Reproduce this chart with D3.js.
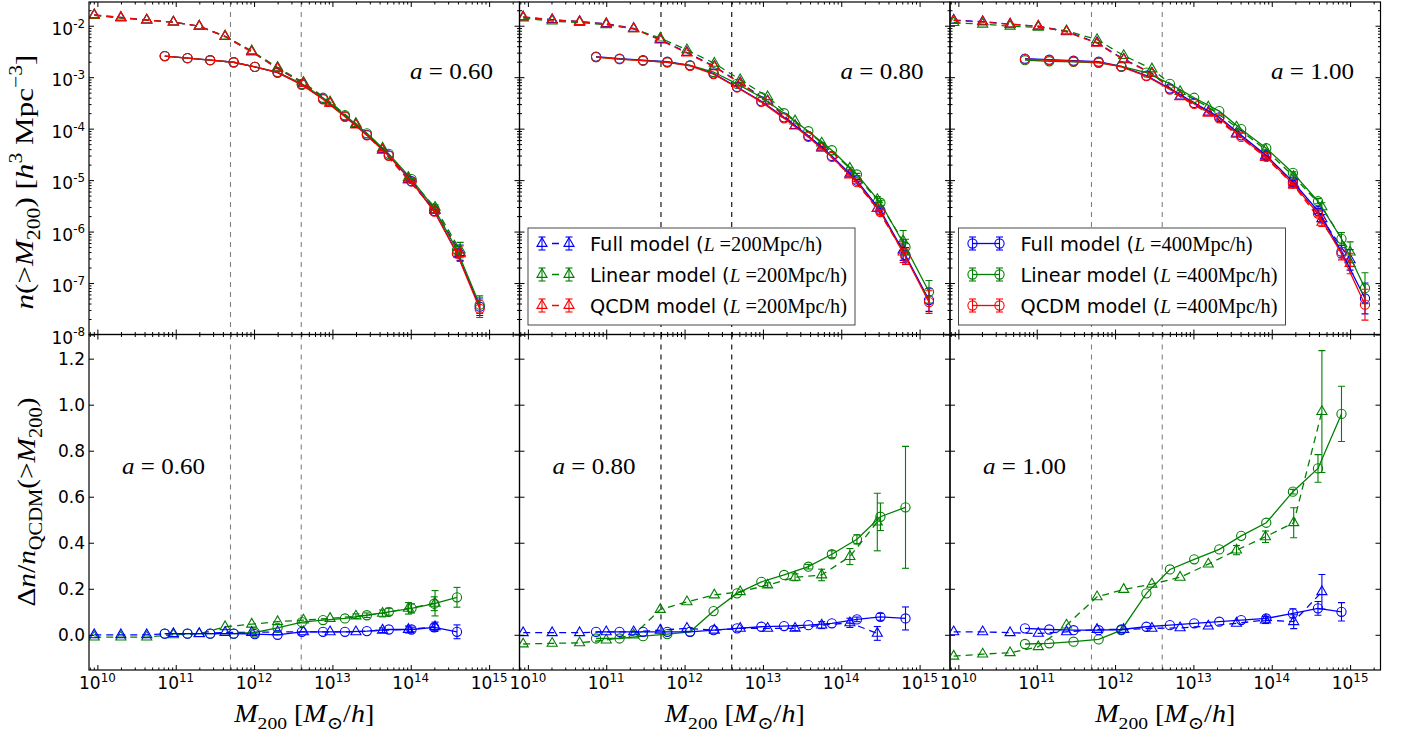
<!DOCTYPE html>
<html>
<head>
<meta charset="utf-8">
<script src="https://cdn.jsdelivr.net/npm/d3@7"></script>
<style>
  body { margin: 0; background: #fff; }
</style>
</head>
<body>
<svg id="fig" width="1410" height="737"></svg>
<script>
// ---------- data (masses as log10 M, top panels as log10 n, bottom panels as Δn/n) ----------
// a = 0.60
var m200_a060 = [9.96, 10.30, 10.63, 10.97, 11.30, 11.63, 11.97, 12.30, 12.63, 12.97, 13.30, 13.64, 13.97, 14.31, 14.63];
var m400_a060 = [10.86, 11.15, 11.44, 11.74, 12.01, 12.30, 12.61, 12.88, 13.16, 13.44, 13.72, 14.01, 14.30, 14.59, 14.88];
var qcdm200_a060 = [-1.79, -1.84, -1.89, -1.93, -2.01, -2.21, -2.51, -2.83, -3.12, -3.51, -3.93, -4.42, -5.00, -5.59, -6.43];
var full200_a060 = [-1.79, -1.84, -1.89, -1.93, -2.01, -2.21, -2.50, -2.83, -3.12, -3.50, -3.92, -4.41, -4.99, -5.58, -6.41];
var lin200_a060  = [-1.80, -1.85, -1.89, -1.93, -2.01, -2.20, -2.49, -2.81, -3.10, -3.48, -3.90, -4.38, -4.95, -5.53, -6.36];
var qcdm400_a060 = [-2.59, -2.63, -2.67, -2.71, -2.80, -2.91, -3.15, -3.43, -3.77, -4.13, -4.53, -5.03, -5.61, -6.43, -7.50];
var full400_a060 = [-2.59, -2.63, -2.67, -2.71, -2.80, -2.91, -3.14, -3.42, -3.76, -4.12, -4.52, -5.02, -5.60, -6.42, -7.46];
var lin400_a060  = [-2.59, -2.63, -2.67, -2.71, -2.80, -2.90, -3.13, -3.40, -3.74, -4.09, -4.49, -4.98, -5.55, -6.36, -7.42];
var err200_a060 = [0, 0, 0, 0, 0, 0, 0, 0, 0, 0, 0, 0.01, 0.02, 0.05, 0.15];
var err400_a060 = [0, 0, 0, 0, 0, 0, 0, 0, 0, 0, 0, 0.01, 0.03, 0.07, 0.17];
var dFull200_a060 = [0.0, 0.0, 0.0, 0.005, 0.005, 0.01, 0.01, 0.013, 0.013, 0.013, 0.013, 0.02, 0.023, 0.035];
var dLin200_a060  = [-0.01, -0.01, -0.01, 0.0, 0.004, 0.035, 0.046, 0.057, 0.064, 0.071, 0.081, 0.093, 0.115, 0.137];
var dFull400_a060 = [0.005, 0.005, 0.005, 0.005, 0.003, 0.0, 0.013, 0.013, 0.013, 0.016, 0.023, 0.023, 0.032, 0.013];
var dLin400_a060  = [0.005, 0.005, 0.005, 0.005, 0.01, 0.03, 0.055, 0.064, 0.071, 0.085, 0.10, 0.115, 0.135, 0.163];
var eFull200_a060 = [0, 0, 0, 0, 0, 0, 0, 0, 0, 0, 0, 0.01, 0.015, 0.02];
var eLin200_a060  = [0, 0, 0, 0, 0, 0, 0, 0, 0, 0, 0.01, 0.015, 0.025, 0.055];
var eFull400_a060 = [0, 0, 0, 0, 0, 0, 0, 0, 0, 0, 0, 0.01, 0.015, 0.03];
var eLin400_a060  = [0, 0, 0, 0, 0, 0, 0, 0, 0, 0.01, 0.015, 0.02, 0.03, 0.043];

// a = 0.80
var m200_a080 = [9.94, 10.31, 10.66, 11.00, 11.35, 11.69, 12.03, 12.38, 12.71, 13.06, 13.41, 13.75, 14.11, 14.46, 14.79];
var m400_a080 = [10.87, 11.17, 11.47, 11.78, 12.07, 12.37, 12.67, 12.98, 13.27, 13.58, 13.88, 14.20, 14.50, 14.82, 15.12];
var qcdm200_a080 = [-1.83, -1.89, -1.92, -1.97, -2.06, -2.28, -2.53, -2.80, -3.12, -3.47, -3.95, -4.38, -4.90, -5.55, -6.40];
var full200_a080 = [-1.83, -1.88, -1.92, -1.96, -2.05, -2.27, -2.52, -2.79, -3.11, -3.46, -3.94, -4.36, -4.88, -5.55, -6.36];
var lin200_a080  = [-1.85, -1.91, -1.94, -1.98, -2.06, -2.24, -2.47, -2.73, -3.05, -3.38, -3.85, -4.28, -4.77, -5.38, -6.18];
var qcdm400_a080 = [-2.61, -2.65, -2.68, -2.71, -2.78, -2.94, -3.20, -3.48, -3.80, -4.16, -4.55, -5.04, -5.62, -6.49, -7.37];
var full400_a080 = [-2.60, -2.64, -2.67, -2.70, -2.77, -2.93, -3.19, -3.47, -3.78, -4.14, -4.53, -5.01, -5.59, -6.46, -7.33];
var lin400_a080  = [-2.61, -2.65, -2.68, -2.71, -2.77, -2.90, -3.13, -3.39, -3.70, -4.05, -4.42, -4.89, -5.44, -6.30, -7.17];
var err200_a080 = [0, 0, 0, 0, 0, 0, 0, 0, 0, 0, 0, 0.01, 0.02, 0.06, 0.20];
var err400_a080 = [0, 0, 0, 0, 0, 0, 0, 0, 0, 0, 0, 0.02, 0.05, 0.15, 0.22];
var dFull200_a080 = [0.009, 0.009, 0.009, 0.013, 0.013, 0.02, 0.028, 0.02, 0.028, 0.028, 0.028, 0.042, 0.052, 0.006];
var dLin200_a080  = [-0.04, -0.037, -0.035, -0.023, -0.001, 0.11, 0.143, 0.173, 0.187, 0.216, 0.25, 0.26, 0.34, 0.49];
var dFull400_a080 = [0.013, 0.013, 0.013, 0.013, 0.013, 0.02, 0.028, 0.035, 0.038, 0.042, 0.05, 0.067, 0.078, 0.071];
var dLin400_a080  = [-0.016, -0.016, -0.006, 0.003, 0.013, 0.103, 0.18, 0.23, 0.26, 0.296, 0.35, 0.415, 0.513, 0.554];
var eFull200_a080 = [0, 0, 0, 0, 0, 0, 0, 0, 0, 0, 0.01, 0.015, 0.02, 0.03];
var eLin200_a080  = [0, 0, 0, 0, 0, 0, 0, 0, 0, 0.01, 0.015, 0.025, 0.035, 0.125];
var eFull400_a080 = [0, 0, 0, 0, 0, 0, 0, 0, 0, 0, 0, 0.01, 0.015, 0.05];
var eLin400_a080  = [0, 0, 0, 0, 0, 0, 0, 0, 0, 0.01, 0.015, 0.02, 0.06, 0.265];

// a = 1.00
var m200_a100 = [9.94, 10.31, 10.66, 11.02, 11.38, 11.77, 12.11, 12.47, 12.83, 13.19, 13.55, 13.92, 14.28, 14.64, 15.00];
var m400_a100 = [10.85, 11.16, 11.47, 11.79, 12.08, 12.40, 12.70, 13.01, 13.33, 13.61, 13.93, 14.27, 14.59, 14.89, 15.19];
var qcdm200_a100 = [-1.90, -1.93, -1.97, -2.01, -2.12, -2.34, -2.66, -2.93, -3.38, -3.70, -4.11, -4.56, -5.10, -5.82, -6.62];
var full200_a100 = [-1.89, -1.92, -1.97, -2.01, -2.11, -2.33, -2.65, -2.92, -3.37, -3.68, -4.09, -4.53, -5.08, -5.75, -6.55];
var lin200_a100  = [-1.94, -1.97, -2.01, -2.03, -2.10, -2.27, -2.58, -2.84, -3.28, -3.58, -3.97, -4.41, -4.93, -5.52, -6.40];
var qcdm400_a100 = [-2.65, -2.67, -2.69, -2.71, -2.80, -2.98, -3.24, -3.52, -3.80, -4.16, -4.55, -5.07, -5.65, -6.43, -7.42];
var full400_a100 = [-2.64, -2.66, -2.68, -2.70, -2.79, -2.97, -3.22, -3.50, -3.78, -4.13, -4.52, -5.03, -5.60, -6.39, -7.30];
var lin400_a100  = [-2.67, -2.69, -2.70, -2.72, -2.79, -2.91, -3.13, -3.40, -3.66, -4.01, -4.38, -4.86, -5.41, -6.14, -7.10];
var err200_a100 = [0, 0, 0, 0, 0, 0, 0, 0, 0, 0, 0, 0.01, 0.03, 0.08, 0.20];
var err400_a100 = [0, 0, 0, 0, 0, 0, 0, 0, 0, 0, 0, 0.02, 0.05, 0.12, 0.30];
var dFull200_a100 = [0.013, 0.013, 0.009, 0.006, 0.013, 0.023, 0.023, 0.028, 0.03, 0.038, 0.05, 0.064, 0.057, 0.187];
var dLin200_a100  = [-0.093, -0.084, -0.078, -0.052, 0.042, 0.165, 0.197, 0.22, 0.25, 0.307, 0.368, 0.426, 0.487, 0.97];
var dFull400_a100 = [0.028, 0.023, 0.02, 0.02, 0.023, 0.035, 0.042, 0.05, 0.057, 0.064, 0.071, 0.093, 0.115, 0.10];
var dLin400_a100  = [-0.04, -0.037, -0.03, -0.02, 0.02, 0.18, 0.284, 0.328, 0.371, 0.43, 0.487, 0.622, 0.723, 0.96];
var eFull200_a100 = [0, 0, 0, 0, 0, 0, 0, 0, 0, 0, 0, 0.015, 0.03, 0.075];
var eLin200_a100  = [0, 0, 0, 0, 0, 0, 0, 0, 0, 0, 0.02, 0.025, 0.065, 0.265];
var eFull400_a100 = [0, 0, 0, 0, 0, 0, 0, 0, 0, 0, 0.01, 0.02, 0.03, 0.04];
var eLin400_a100  = [0, 0, 0, 0, 0, 0, 0, 0, 0, 0, 0, 0.01, 0.06, 0.12];

// ticks / labels
var massTickExp = [10, 11, 12, 13, 14, 15];
var nTickExp = [-8, -7, -6, -5, -4, -3, -2];
var ratioTicks = [0.0, 0.2, 0.4, 0.6, 0.8, 1.0, 1.2];
var cutMasses = [5e11, 4e12];
var scaleLabels = ["0.60", "0.80", "1.00"];
var modelNames = ["Full model", "Linear model", "QCDM model"];

// ---------- layout ----------
var svg = d3.select("#fig");
var defs = svg.append("defs");
var colX = [89, 519.5, 950], colW = 430.5;
var topBox = [2, 334.5], botBox = [334.5, 670];
var sans = "'DejaVu Sans', sans-serif";
var serif = "'Liberation Serif', 'DejaVu Serif', serif";
var cFull = "#0000ff", cLin = "#008000", cQcdm = "#ff0000";

var panels = [
  {a: scaleLabels[0], m200: m200_a060, m400: m400_a060,
   top200: [[full200_a060, cFull], [lin200_a060, cLin], [qcdm200_a060, cQcdm]], eTop200: err200_a060,
   top400: [[full400_a060, cFull], [lin400_a060, cLin], [qcdm400_a060, cQcdm]], eTop400: err400_a060,
   bot: [[dLin200_a060, eLin200_a060, cLin, 200], [dFull200_a060, eFull200_a060, cFull, 200],
         [dLin400_a060, eLin400_a060, cLin, 400], [dFull400_a060, eFull400_a060, cFull, 400]],
   vcol: "#808080", legend: null},
  {a: scaleLabels[1], m200: m200_a080, m400: m400_a080,
   top200: [[full200_a080, cFull], [lin200_a080, cLin], [qcdm200_a080, cQcdm]], eTop200: err200_a080,
   top400: [[full400_a080, cFull], [lin400_a080, cLin], [qcdm400_a080, cQcdm]], eTop400: err400_a080,
   bot: [[dLin200_a080, eLin200_a080, cLin, 200], [dFull200_a080, eFull200_a080, cFull, 200],
         [dLin400_a080, eLin400_a080, cLin, 400], [dFull400_a080, eFull400_a080, cFull, 400]],
   vcol: "#000000", legend: 200},
  {a: scaleLabels[2], m200: m200_a100, m400: m400_a100,
   top200: [[full200_a100, cFull], [lin200_a100, cLin], [qcdm200_a100, cQcdm]], eTop200: err200_a100,
   top400: [[full400_a100, cFull], [lin400_a100, cLin], [qcdm400_a100, cQcdm]], eTop400: err400_a100,
   bot: [[dLin200_a100, eLin200_a100, cLin, 200], [dFull200_a100, eFull200_a100, cFull, 200],
         [dLin400_a100, eLin400_a100, cLin, 400], [dFull400_a100, eFull400_a100, cFull, 400]],
   vcol: "#808080", legend: 400}
];

// text with italics / sub / superscripts
function tex(t, parts, fs) {
  var shift = 0;
  parts.forEach(function(p) {
    var k = p[1];
    var off = k === "sub" ? 0.28 * fs : k === "sup" ? -0.42 * fs : 0;
    var ts = t.append("tspan").text(p[0]).attr("dy", off - shift);
    shift = off;
    if (k === "sub" || k === "sup") ts.attr("font-size", 0.7 * fs);
    if (k === "i") ts.attr("font-style", "italic");
  });
  return t;
}

var isDecade = function(v) { var l = Math.log10(v); return Math.abs(l - Math.round(l)) < 1e-6; };
var triangle = d3.symbol().type(d3.symbolTriangle).size(44);

function marker(g, pts, color, shape) {
  if (shape === "tri") {
    g.selectAll(null).data(pts).join("path")
      .attr("d", triangle).attr("transform", function(d) { return "translate(" + d.px + "," + d.py + ")"; })
      .attr("fill", "none").attr("stroke", color).attr("stroke-width", 1.1);
  } else {
    g.selectAll(null).data(pts).join("circle")
      .attr("cx", function(d) { return d.px; }).attr("cy", function(d) { return d.py; }).attr("r", 4.6)
      .attr("fill", "none").attr("stroke", color).attr("stroke-width", 1.1);
  }
}

function errbars(g, pts, color) {
  var eb = g.selectAll(null).data(pts.filter(function(d) { return Math.abs(d.lo - d.hi) > 0.5; })).join("g")
    .attr("stroke", color).attr("stroke-width", 1.1);
  eb.append("line").attr("x1", function(d) { return d.px; }).attr("x2", function(d) { return d.px; })
    .attr("y1", function(d) { return d.lo; }).attr("y2", function(d) { return d.hi; });
  eb.append("line").attr("x1", function(d) { return d.px - 3.5; }).attr("x2", function(d) { return d.px + 3.5; })
    .attr("y1", function(d) { return d.lo; }).attr("y2", function(d) { return d.lo; });
  eb.append("line").attr("x1", function(d) { return d.px - 3.5; }).attr("x2", function(d) { return d.px + 3.5; })
    .attr("y1", function(d) { return d.hi; }).attr("y2", function(d) { return d.hi; });
}

function series(g, x, ms, vals, errs, toPix, color, box) {
  var pts = vals.map(function(v, i) {
    return {px: x(Math.pow(10, ms[i])), py: toPix(v), lo: toPix(v - errs[i]), hi: toPix(v + errs[i])};
  });
  g.append("path").datum(pts)
    .attr("d", d3.line().x(function(d) { return d.px; }).y(function(d) { return d.py; }))
    .attr("fill", "none").attr("stroke", color).attr("stroke-width", 1.3)
    .attr("stroke-dasharray", box === 200 ? "7,5" : null);
  errbars(g, pts, color);
  marker(g, pts, color, box === 200 ? "tri" : "circ");
}

panels.forEach(function(p, c) {
  var x0 = colX[c], x1 = x0 + colW;
  var x = d3.scaleLog().domain([Math.pow(10, 9.893), Math.pow(10, 15.388)]).range([x0, x1]);
  var yT = d3.scaleLog().domain([1e-8, Math.pow(10, -1.539)]).range([topBox[1], topBox[0]]);
  var yB = d3.scaleLinear().domain([-0.153, 1.305]).range([botBox[1], botBox[0]]);
  var xt = x.ticks();
  var xMaj = xt.filter(isDecade), xMin = xt.filter(function(t) { return !isDecade(t); });

  [["top", topBox], ["bot", botBox]].forEach(function(b) {
    var id = "clip" + c + b[0];
    defs.append("clipPath").attr("id", id).append("rect")
      .attr("x", x0).attr("y", b[1][0]).attr("width", colW).attr("height", b[1][1] - b[1][0]);
    var g = svg.append("g").attr("clip-path", "url(#" + id + ")");
    g.selectAll(null).data(cutMasses).join("line")
      .attr("x1", function(d) { return x(d); }).attr("x2", function(d) { return x(d); })
      .attr("y1", b[1][0]).attr("y2", b[1][1])
      .attr("stroke", p.vcol).attr("stroke-width", 1.1).attr("stroke-dasharray", "5,5");

    if (b[0] === "top") {
      var tp = function(v) { return yT(Math.pow(10, v)); };
      p.top200.forEach(function(s) { series(g, x, p.m200, s[0], p.eTop200, tp, s[1], 200); });
      p.top400.forEach(function(s) { series(g, x, p.m400, s[0], p.eTop400, tp, s[1], 400); });
    } else {
      p.bot.forEach(function(s) {
        series(g, x, s[3] === 200 ? p.m200 : p.m400, s[0], s[1], yB, s[2], s[3]);
      });
    }

    // frame + inward ticks
    var ax = svg.append("g");
    var clean = function(s) { s.select(".domain").remove(); };
    [[xMaj, 5], [xMin, 2.5]].forEach(function(tk) {
      ax.append("g").attr("transform", "translate(0," + b[1][1] + ")")
        .call(d3.axisBottom(x).tickValues(tk[0]).tickSizeInner(-tk[1]).tickSizeOuter(0).tickFormat("")).call(clean);
      ax.append("g").attr("transform", "translate(0," + b[1][0] + ")")
        .call(d3.axisTop(x).tickValues(tk[0]).tickSizeInner(-tk[1]).tickSizeOuter(0).tickFormat("")).call(clean);
    });
    if (b[0] === "top") {
      var yt = yT.ticks();
      [[yt.filter(isDecade), 5], [yt.filter(function(t) { return !isDecade(t); }), 2.5]].forEach(function(tk) {
        ax.append("g").attr("transform", "translate(" + x0 + ",0)")
          .call(d3.axisLeft(yT).tickValues(tk[0]).tickSizeInner(-tk[1]).tickSizeOuter(0).tickFormat("")).call(clean);
        ax.append("g").attr("transform", "translate(" + x1 + ",0)")
          .call(d3.axisRight(yT).tickValues(tk[0]).tickSizeInner(-tk[1]).tickSizeOuter(0).tickFormat("")).call(clean);
      });
    } else {
      ax.append("g").attr("transform", "translate(" + x0 + ",0)")
        .call(d3.axisLeft(yB).tickValues(ratioTicks).tickSizeInner(-5).tickSizeOuter(0).tickFormat("")).call(clean);
      ax.append("g").attr("transform", "translate(" + x1 + ",0)")
        .call(d3.axisRight(yB).tickValues(ratioTicks).tickSizeInner(-5).tickSizeOuter(0).tickFormat("")).call(clean);
    }
    ax.append("rect").attr("x", x0).attr("y", b[1][0]).attr("width", colW).attr("height", b[1][1] - b[1][0])
      .attr("fill", "none").attr("stroke", "#000").attr("stroke-width", 1.2);
  });

  // scale factor labels
  svg.append("text").attr("x", x0 + 321).attr("y", 79).attr("font-family", serif).attr("font-size", 24)
    .attr("textLength", 83).attr("lengthAdjust", "spacingAndGlyphs")
    .call(tex, [["a", "i"], [" = " + p.a, ""]], 24);
  svg.append("text").attr("x", x0 + 33).attr("y", 474).attr("font-family", serif).attr("font-size", 24)
    .attr("textLength", 83).attr("lengthAdjust", "spacingAndGlyphs")
    .call(tex, [["a", "i"], [" = " + p.a, ""]], 24);

  // x tick labels
  svg.selectAll(null).data(massTickExp).join("text")
    .attr("x", function(e) { return x(Math.pow(10, e)); }).attr("y", 689)
    .attr("text-anchor", "middle").attr("font-family", sans).attr("font-size", 17)
    .each(function(e) { tex(d3.select(this), [["10", ""], [String(e), "sup"]], 17); });

  // x axis label
  svg.append("text").attr("x", x0 + colW / 2).attr("y", 722).attr("text-anchor", "middle")
    .attr("font-family", serif).attr("font-size", 25).attr("textLength", 140).attr("lengthAdjust", "spacingAndGlyphs")
    .call(tex, [["M", "i"], ["200", "sub"], [" [", ""], ["M", "i"], ["\u2299", "sub"], ["/", ""], ["h", "i"], ["]", ""]], 25);

  if (c === 0) {
    svg.selectAll(null).data(nTickExp).join("text")
      .attr("x", 85).attr("y", function(e) { return yT(Math.pow(10, e)) + 9; })
      .attr("text-anchor", "end").attr("font-family", sans).attr("font-size", 17)
      .each(function(e) { tex(d3.select(this), [["10", ""], [String(e), "sup"]], 17); });
    svg.selectAll(null).data(ratioTicks).join("text")
      .attr("x", 85).attr("y", function(v) { return yB(v) + 6.5; })
      .attr("text-anchor", "end").attr("font-family", sans).attr("font-size", 17)
      .text(function(v) { return v.toFixed(1); });
  }

  // legend
  if (p.legend) {
    var lx = x0 + 8.5, ly = 228;
    var lg = svg.append("g");
    lg.append("rect").attr("x", lx).attr("y", ly).attr("width", 327).attr("height", 97)
      .attr("fill", "#fff").attr("stroke", "#333").attr("stroke-width", 0.9);
    [cFull, cLin, cQcdm].forEach(function(col, i) {
      var cy = ly + 15.5 + i * 31;
      var hp = [{px: lx + 14, py: cy, lo: cy + 6.5, hi: cy - 6.5}, {px: lx + 41, py: cy, lo: cy + 6.5, hi: cy - 6.5}];
      lg.append("line").attr("x1", hp[0].px).attr("x2", hp[1].px).attr("y1", cy).attr("y2", cy)
        .attr("stroke", col).attr("stroke-width", 1.3)
        .attr("stroke-dasharray", p.legend === 200 ? "0,10,7,20" : null);
      errbars(lg, hp, col);
      marker(lg, hp, col, p.legend === 200 ? "tri" : "circ");
      var t = lg.append("text").attr("x", lx + 62).attr("y", cy + 7).attr("font-size", 19)
        .attr("textLength", i === 0 ? 232 : 257).attr("lengthAdjust", "spacingAndGlyphs");
      t.append("tspan").attr("font-family", sans).text(modelNames[i] + " (");
      t.append("tspan").attr("font-family", serif).attr("font-style", "italic").text("L");
      t.append("tspan").attr("font-family", serif).attr("font-size", 20).text(" =" + p.legend + "Mpc/h)");
    });
  }
});

// y axis labels
svg.append("text").attr("transform", "translate(33,182) rotate(-90)").attr("text-anchor", "middle")
  .attr("font-family", serif).attr("font-size", 26).attr("textLength", 255).attr("lengthAdjust", "spacingAndGlyphs")
  .call(tex, [["n", "i"], ["(>", ""], ["M", "i"], ["200", "sub"], [")", ""], [" [", ""], ["h", "i"], ["3", "sup"],
              [" Mpc", ""], ["\u22123", "sup"], ["]", ""]], 26);
svg.append("text").attr("transform", "translate(35,502) rotate(-90)").attr("text-anchor", "middle")
  .attr("font-family", serif).attr("font-size", 26).attr("textLength", 209).attr("lengthAdjust", "spacingAndGlyphs")
  .call(tex, [["\u0394", ""], ["n", "i"], ["/", ""], ["n", "i"], ["QCDM", "sub"], ["(>", ""], ["M", "i"],
              ["200", "sub"], [")", ""]], 26);
</script>
</body>
</html>
